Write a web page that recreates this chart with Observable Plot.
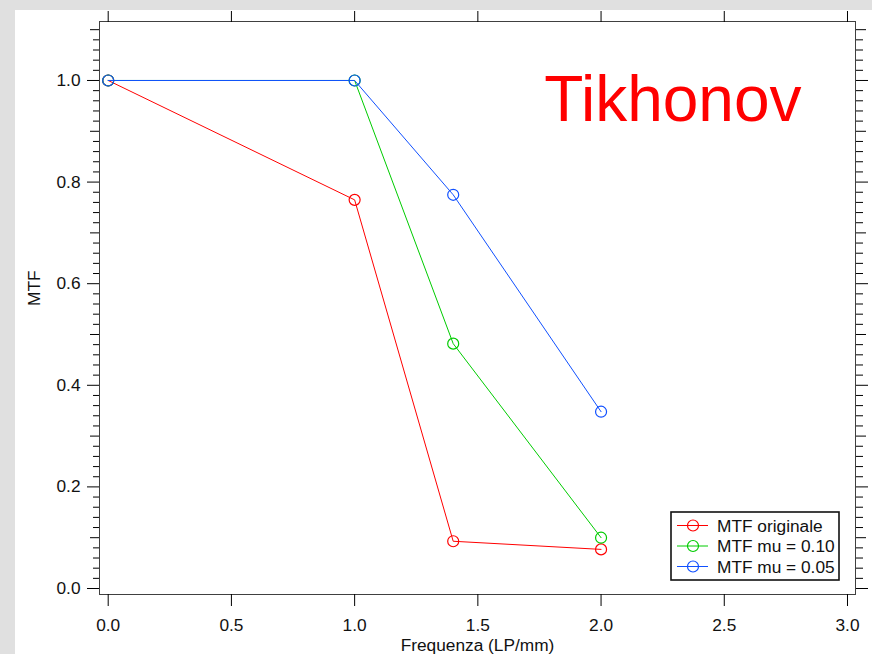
<!DOCTYPE html>
<html>
<head>
<meta charset="utf-8">
<script src="https://cdn.jsdelivr.net/npm/d3@7"></script>
<script src="https://cdn.jsdelivr.net/npm/@observablehq/plot@0.6"></script>
<style>
  html, body { margin: 0; padding: 0; background: #e0e0e0; width: 872px; height: 654px; overflow: hidden; }
  #panel { position: absolute; left: 15px; top: 10px; width: 857px; height: 644px; background: #fff; }
  #panel svg.plot { position: absolute; left: 0; top: 0; }
  #legend { position: absolute; left: 655px; top: 501px; }
</style>
</head>
<body>
<div id="panel"></div>
<script>
// ---- data ----
const frequenza = [0.0, 1.0, 1.4, 2.0];
const mtfOriginale = [1.0, 0.765, 0.093, 0.077];
const mtfMu010 = [1.0, 1.0, 0.482, 0.100];
const mtfMu005 = [1.0, 1.0, 0.775, 0.348];
const seriesNames = ["MTF originale", "MTF mu = 0.10", "MTF mu = 0.05"];
const seriesColors = ["#ff0000", "#00cc00", "#1050ff"];
const xTicks = [0.0, 0.5, 1.0, 1.5, 2.0, 2.5, 3.0];
const yMajor = [0.0, 0.2, 0.4, 0.6, 0.8, 1.0];
const yMedium = [0.1, 0.3, 0.5, 0.7, 0.9, 1.1];
const yMinor = d3.range(0, 56).map(i => +(i * 0.02).toFixed(2)).filter(v => Math.round(v * 100) % 10 !== 0);
const titleText = "Tikhonov";
const xLabel = "Frequenza (LP/mm)";
const yLabel = "MTF";

const seriesValues = [mtfOriginale, mtfMu010, mtfMu005];
const rows = seriesValues.flatMap((vals, s) =>
  vals.map((v, i) => ({series: seriesNames[s], x: frequenza[i], y: v})));

const font = "'Liberation Sans', Arial, sans-serif";
const fs = 17.3;
const blank = () => "";

const plot = Plot.plot({
  width: 857,
  height: 644,
  marginLeft: 84,
  marginRight: 17,
  marginTop: 11,
  marginBottom: 60,
  style: {fontFamily: font, fontSize: fs + "px", background: "transparent", overflow: "visible"},
  x: {domain: [-0.0353, 3.0325]},
  y: {domain: [-0.0118, 1.1161]},
  color: {domain: seriesNames, range: seriesColors},
  marks: [
    Plot.frame({stroke: "#404040"}),
    // bottom axis
    Plot.axisX({anchor: "bottom", ticks: xTicks, tickSize: 12, tickPadding: 12, tickFormat: d3.format(".1f"), label: null, fontSize: fs, stroke: "#000", fill: "#111"}),
    // top mirror ticks
    Plot.axisX({anchor: "top", ticks: xTicks, tickSize: 11, tickFormat: blank, label: null, stroke: "#000"}),
    // left axis
    Plot.axisY({anchor: "left", ticks: yMajor, tickSize: 12, tickPadding: 7, tickFormat: d3.format(".1f"), label: null, fontSize: fs, stroke: "#000", fill: "#111"}),
    Plot.axisY({anchor: "left", ticks: yMedium, tickSize: 9, tickFormat: blank, label: null, stroke: "#000"}),
    Plot.axisY({anchor: "left", ticks: yMinor, tickSize: 6, tickFormat: blank, label: null, stroke: "#000"}),
    // right mirror axis
    Plot.axisY({anchor: "right", ticks: yMajor, tickSize: 12, tickFormat: blank, label: null, stroke: "#000"}),
    Plot.axisY({anchor: "right", ticks: yMedium, tickSize: 10, tickFormat: blank, label: null, stroke: "#000"}),
    Plot.axisY({anchor: "right", ticks: yMinor, tickSize: 7, tickFormat: blank, label: null, stroke: "#000"}),
    // series
    Plot.line(rows, {x: "x", y: "y", z: "series", stroke: "series", strokeWidth: 1}),
    Plot.dot(rows, {x: "x", y: "y", stroke: "series", r: 5.5, fill: "none", strokeWidth: 1.2}),
    // axis titles
    Plot.text([xLabel], {frameAnchor: "bottom", text: d => d, dy: 51, lineAnchor: "middle", fontSize: fs, fill: "#111"}),
    Plot.text([yLabel], {frameAnchor: "left", text: d => d, dx: -65, dy: -2, rotate: -90, lineAnchor: "middle", fontSize: fs, fill: "#111"}),
    // title annotation
    Plot.text([titleText], {frameAnchor: "top-right", text: d => d, dx: -54, dy: 54, textAnchor: "end", lineAnchor: "top", fontSize: 64, fill: "#ff0000"})
  ]
});
plot.classList.add("plot");
document.getElementById("panel").appendChild(plot);

// ---- legend (inside plot area, lower right) ----
const lw = 170, lh = 70;
const leg = d3.create("svg").attr("id", "legend").attr("width", lw).attr("height", lh)
  .style("font-family", font).style("font-size", fs + "px");
leg.append("rect").attr("x", 1).attr("y", 1).attr("width", lw - 2).attr("height", lh - 2)
  .attr("fill", "#fff").attr("stroke", "#111").attr("stroke-width", 1.6);
seriesNames.forEach((name, i) => {
  const cy = 14.5 + i * 20.5;
  leg.append("line").attr("x1", 7).attr("x2", 38).attr("y1", cy).attr("y2", cy)
    .attr("stroke", seriesColors[i]).attr("stroke-width", 1);
  leg.append("circle").attr("cx", 23).attr("cy", cy).attr("r", 5.5)
    .attr("fill", "none").attr("stroke", seriesColors[i]).attr("stroke-width", 1.2);
  leg.append("text").attr("x", 47).attr("y", cy).attr("dy", "0.36em").attr("fill", "#111").text(name);
});
document.getElementById("panel").appendChild(leg.node());
</script>
</body>
</html>
